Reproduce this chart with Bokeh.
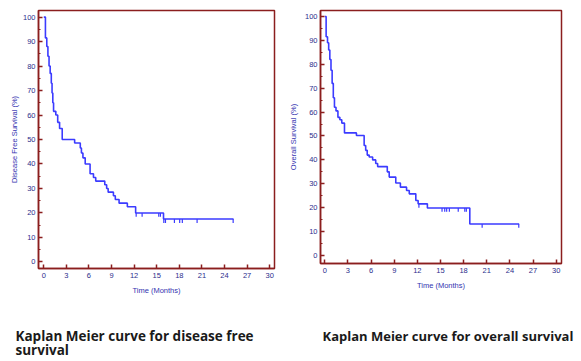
from bokeh.plotting import figure
from bokeh.layouts import row
from bokeh.models import SingleIntervalTicker, Range1d, Title
from bokeh.embed import file_html
from bokeh.resources import INLINE

# ---- data ----
dfs_time = [0, 0.22, 0.4, 0.55, 0.7, 0.85, 1.0, 1.1, 1.2, 1.3, 1.6, 1.85, 2.1, 2.45,
            4.1, 4.85, 5.0, 5.2, 5.5, 6.15, 6.6, 6.9, 8.1, 8.35, 8.55, 9.25, 9.5,
            10.0, 11.1, 12.2, 15.9, 25.2]
dfs_surv = [100, 91.5, 88, 84, 80, 77, 73, 69, 65, 61.5, 60, 57, 54.5, 50,
            48.6, 46.5, 44.5, 42.5, 40, 36, 34.5, 33, 31.5, 30, 28.5, 27, 25.5,
            24, 22.5, 20, 17.5, 17.5]
dfs_cens_time = [12.27, 13.06, 15.27, 15.49, 15.94, 16.16, 17.35, 18.05, 18.4, 20.36, 25.15]
dfs_cens_surv = [20, 20, 20, 20, 17.5, 17.5, 17.5, 17.5, 17.5, 17.5, 17.5]

os_time = [0, 0.17, 0.35, 0.5, 0.65, 0.8, 0.95, 1.1, 1.25, 1.45, 1.7, 1.95, 2.2, 2.55,
           4.1, 5.1, 5.3, 5.5, 5.75, 6.2, 6.6, 6.85, 8.1, 8.35, 9.2, 9.8, 10.6, 10.95,
           11.8, 12.1, 13.3, 18.8, 25.2]
os_surv = [100, 91.5, 89, 86, 82, 77.5, 72, 66, 62, 60.5, 57.8, 56.8, 55.4, 51.3,
           50.2, 46, 44, 42, 41.2, 40, 38.5, 37.2, 35, 32.8, 30.3, 28.6, 27.2, 25.8,
           23, 21.6, 19.9, 13.2, 13.2]
os_cens_time = [12.2, 15.2, 15.55, 15.8, 16.15, 17.3, 18.15, 18.35, 20.4, 25.15]
os_cens_surv = [21.6, 19.9, 19.9, 19.9, 19.9, 19.9, 19.9, 19.9, 13.2, 13.2]

x_tick_interval = 3
y_tick_interval = 10

title_dfs = "Kaplan Meier curve for disease free\nsurvival"
title_os = "Kaplan Meier curve for overall survival"
y_labels = ["Disease Free Survival (%)", "Overall Survival (%)"]
x_label = "Time (Months)"

FRAME_RED = "#8B1E1E"
TICK_BLUE = "#2B2E8C"
LABEL_BLUE = "#3333B0"
CURVE_BLUE = "#3B3BFF"
TICK_FONT = "Liberation Sans"


def km_plot(times, surv, ctimes, csurv, ylab, title, frame_w, frame_h,
            b_left, b_right, b_bottom, xr, yr, ylab_standoff,
            title_offset, title_standoff, title_size, title_lh):
    p = figure(frame_width=frame_w, frame_height=frame_h, output_backend="svg",
               toolbar_location=None, x_range=Range1d(*xr), y_range=Range1d(*yr),
               min_border_left=b_left, min_border_right=b_right,
               min_border_top=10, min_border_bottom=b_bottom)
    p.grid.visible = False
    p.background_fill_color = "white"
    p.border_fill_color = "white"
    p.outline_line_color = FRAME_RED
    p.outline_line_width = 1.5

    p.xaxis.ticker = SingleIntervalTicker(interval=x_tick_interval, num_minor_ticks=0)
    p.yaxis.ticker = SingleIntervalTicker(interval=y_tick_interval, num_minor_ticks=2)
    for ax in (p.xaxis, p.yaxis):
        ax.axis_line_color = FRAME_RED
        ax.axis_line_width = 1.5
        ax.major_tick_line_color = FRAME_RED
        ax.major_tick_line_width = 1.5
        ax.minor_tick_line_color = FRAME_RED
        ax.major_tick_in = 4
        ax.major_tick_out = 0
        ax.minor_tick_in = 2
        ax.minor_tick_out = 0
        ax.major_label_text_color = TICK_BLUE
        ax.major_label_text_font = TICK_FONT
        ax.major_label_text_font_size = "7.5px"
        ax.axis_label_text_color = LABEL_BLUE
        ax.axis_label_text_font = TICK_FONT
        ax.axis_label_text_font_size = "7.5px"
        ax.axis_label_text_font_style = "normal"
    p.xaxis.major_label_standoff = 4
    p.xaxis.axis_label_standoff = 5
    p.yaxis.major_label_standoff = 3
    p.yaxis.axis_label_standoff = ylab_standoff
    p.xaxis.axis_label = x_label
    p.yaxis.axis_label = ylab

    p.step(times, surv, mode="after", line_color=CURVE_BLUE, line_width=1.6)
    p.segment(x0=ctimes, y0=csurv, x1=ctimes, y1=[v - 1.6 for v in csurv],
              line_color=CURVE_BLUE, line_width=1.2)

    t = Title(text=title, align="left", offset=title_offset, standoff=title_standoff,
              text_font="Open Sans", text_font_style="bold", text_line_height=title_lh,
              text_font_size=title_size, text_color="#1a1a1a")
    p.add_layout(t, "below")
    return p


p1 = km_plot(dfs_time, dfs_surv, dfs_cens_time, dfs_cens_surv, y_labels[0], title_dfs,
             frame_w=236, frame_h=258, b_left=38, b_right=10, b_bottom=93,
             xr=(-0.7, 30.64), yr=(-2.7, 102.7), ylab_standoff=1,
             title_offset=-23, title_standoff=55, title_size="13.5px", title_lh=0.8)
p2 = km_plot(os_time, os_surv, os_cens_time, os_cens_surv, y_labels[1], title_os,
             frame_w=241, frame_h=253, b_left=36, b_right=20, b_bottom=98,
             xr=(-0.56, 30.69), yr=(-3.35, 102.5), ylab_standoff=4,
             title_offset=2, title_standoff=64, title_size="13px", title_lh=1.0)

layout = row(p1, p2)
open("out.html", "w").write(file_html(layout, INLINE))
